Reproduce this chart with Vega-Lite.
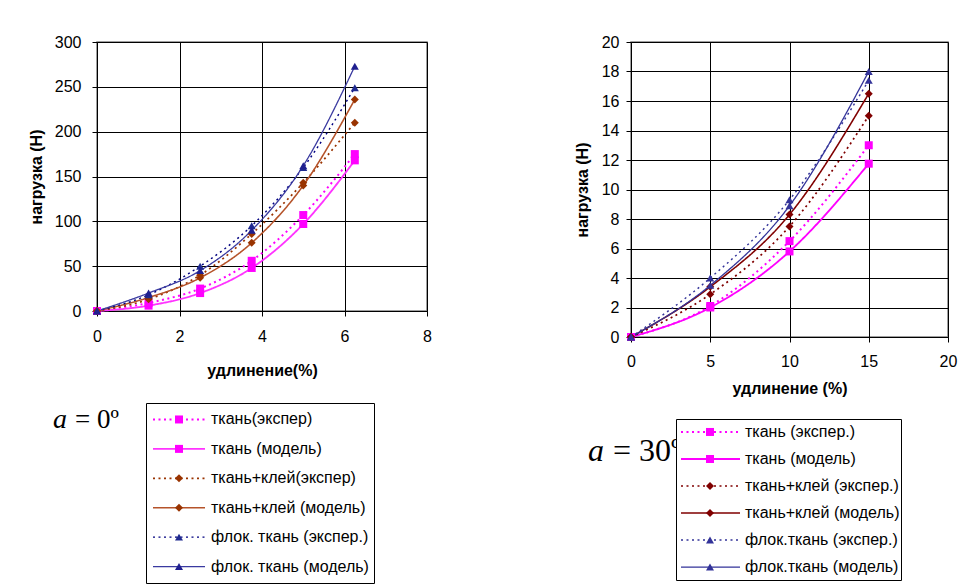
{
  "$schema": "https://vega.github.io/schema/vega-lite/v6.json",
  "background": "white",
  "padding": {"left": 27, "top": 33, "right": 0, "bottom": 0},
  "autosize": {"type": "pad"},
  "config": {
    "font": "Liberation Sans",
    "view": {"stroke": "#808080", "strokeWidth": 1.5},
    "axis": {
      "labelFont": "Liberation Sans", "labelFontSize": 16, "labelColor": "black",
      "titleFont": "Liberation Sans", "titleFontSize": 16, "titleFontWeight": "bold", "titleColor": "black",
      "domainColor": "black", "domainWidth": 1, "tickColor": "black", "tickSize": 5, "tickWidth": 1,
      "gridColor": "black", "gridOpacity": 1, "gridWidth": 1,
      "labelFlush": false, "labelOverlap": false
    }
  },
  "datasets": {
    "left": [
      {"series": "ткань(экспер)", "x": 0, "y": 0},
      {"series": "ткань(экспер)", "x": 1.25, "y": 9},
      {"series": "ткань(экспер)", "x": 2.5, "y": 25},
      {"series": "ткань(экспер)", "x": 3.75, "y": 56},
      {"series": "ткань(экспер)", "x": 5, "y": 107},
      {"series": "ткань(экспер)", "x": 6.25, "y": 175},
      {"series": " ткань (модель)", "x": 0, "y": 0},
      {"series": " ткань (модель)", "x": 1.25, "y": 6},
      {"series": " ткань (модель)", "x": 2.5, "y": 20},
      {"series": " ткань (модель)", "x": 3.75, "y": 48},
      {"series": " ткань (модель)", "x": 5, "y": 97},
      {"series": " ткань (модель)", "x": 6.25, "y": 168},
      {"series": "ткань+клей(экспер)", "x": 0, "y": 0},
      {"series": "ткань+клей(экспер)", "x": 1.25, "y": 13},
      {"series": "ткань+клей(экспер)", "x": 2.5, "y": 40},
      {"series": "ткань+клей(экспер)", "x": 3.75, "y": 86},
      {"series": "ткань+клей(экспер)", "x": 5, "y": 143},
      {"series": "ткань+клей(экспер)", "x": 6.25, "y": 210},
      {"series": "ткань+клей (модель)", "x": 0, "y": 0},
      {"series": "ткань+клей (модель)", "x": 1.25, "y": 15},
      {"series": "ткань+клей (модель)", "x": 2.5, "y": 37},
      {"series": "ткань+клей (модель)", "x": 3.75, "y": 76},
      {"series": "ткань+клей (модель)", "x": 5, "y": 140},
      {"series": "ткань+клей (модель)", "x": 6.25, "y": 236},
      {"series": "флок. ткань (экспер.)", "x": 0, "y": 0},
      {"series": "флок. ткань (экспер.)", "x": 1.25, "y": 18},
      {"series": "флок. ткань (экспер.)", "x": 2.5, "y": 50},
      {"series": "флок. ткань (экспер.)", "x": 3.75, "y": 95},
      {"series": "флок. ткань (экспер.)", "x": 5, "y": 160},
      {"series": "флок. ткань (экспер.)", "x": 6.25, "y": 249},
      {"series": "флок. ткань (модель)", "x": 0, "y": 0},
      {"series": "флок. ткань (модель)", "x": 1.25, "y": 20},
      {"series": "флок. ткань (модель)", "x": 2.5, "y": 45},
      {"series": "флок. ткань (модель)", "x": 3.75, "y": 90},
      {"series": "флок. ткань (модель)", "x": 5, "y": 162},
      {"series": "флок. ткань (модель)", "x": 6.25, "y": 273}
    ],
    "right": [
      {"series": "ткань (экспер.)", "x": 0, "y": 0},
      {"series": "ткань (экспер.)", "x": 5, "y": 2.1},
      {"series": "ткань (экспер.)", "x": 10, "y": 6.5},
      {"series": "ткань (экспер.)", "x": 15, "y": 13.0},
      {"series": "ткань (модель)", "x": 0, "y": 0},
      {"series": "ткань (модель)", "x": 5, "y": 2.0},
      {"series": "ткань (модель)", "x": 10, "y": 5.8},
      {"series": "ткань (модель)", "x": 15, "y": 11.75},
      {"series": "ткань+клей (экспер.)", "x": 0, "y": 0},
      {"series": "ткань+клей (экспер.)", "x": 5, "y": 2.9},
      {"series": "ткань+клей (экспер.)", "x": 10, "y": 7.5},
      {"series": "ткань+клей (экспер.)", "x": 15, "y": 15.0},
      {"series": "ткань+клей (модель)", "x": 0, "y": 0},
      {"series": "ткань+клей (модель)", "x": 5, "y": 3.4},
      {"series": "ткань+клей (модель)", "x": 10, "y": 8.3},
      {"series": "ткань+клей (модель)", "x": 15, "y": 16.5},
      {"series": "флок.ткань (экспер.)", "x": 0, "y": 0},
      {"series": "флок.ткань (экспер.)", "x": 5, "y": 4.0},
      {"series": "флок.ткань (экспер.)", "x": 10, "y": 9.3},
      {"series": "флок.ткань (экспер.)", "x": 15, "y": 17.4},
      {"series": "флок.ткань (модель)", "x": 0, "y": 0},
      {"series": "флок.ткань (модель)", "x": 5, "y": 3.5},
      {"series": "флок.ткань (модель)", "x": 10, "y": 8.9},
      {"series": "флок.ткань (модель)", "x": 15, "y": 18.0}
    ]
  },
  "resolve": {"scale": {"stroke": "independent", "fill": "independent", "shape": "independent", "size": "independent", "strokeDash": "independent", "strokeWidth": "independent"}},
  "spacing": 140,
  "hconcat": [
    {
      "spacing": 23,
      "vconcat": [
        {
          "width": 330, "height": 269,
          "data": {"name": "left"},
          "encoding": {
            "x": {"field": "x", "type": "quantitative", "scale": {"domain": [0, 8], "nice": false}, "axis": {"values": [0, 2, 4, 6, 8], "title": "удлинение(%)", "labelPadding": 12, "titlePadding": 18}},
            "y": {"field": "y", "type": "quantitative", "scale": {"domain": [0, 300], "nice": false}, "axis": {"values": [0, 50, 100, 150, 200, 250, 300], "title": "нагрузка (Н)", "labelPadding": 11, "titlePadding": 10}}
          },
          "layer": [
            {
              "mark": {"type": "line", "interpolate": "monotone"},
              "encoding": {
                "stroke": {"field": "series", "type": "nominal", "legend": null, "scale": {"domain": ["ткань(экспер)", " ткань (модель)", "ткань+клей(экспер)", "ткань+клей (модель)", "флок. ткань (экспер.)", "флок. ткань (модель)"], "range": ["#FF00FF", "#FF33FF", "#993300", "#B5532A", "#000080", "#3A3AA0"]}},
                "strokeDash": {"field": "series", "type": "nominal", "legend": null, "scale": {"domain": ["ткань(экспер)", " ткань (модель)", "ткань+клей(экспер)", "ткань+клей (модель)", "флок. ткань (экспер.)", "флок. ткань (модель)"], "range": [[2, 3.5], [1, 0], [2, 3.5], [1, 0], [2, 3.5], [1, 0]]}},
                "strokeWidth": {"field": "series", "type": "nominal", "legend": null, "scale": {"domain": ["ткань(экспер)", " ткань (модель)", "ткань+клей(экспер)", "ткань+клей (модель)", "флок. ткань (экспер.)", "флок. ткань (модель)"], "range": [2, 1.3, 2, 1.3, 2, 1.3]}}
              }
            },
            {
              "mark": {"type": "point", "filled": true, "opacity": 1, "strokeWidth": 0},
              "encoding": {
                "fill": {"field": "series", "type": "nominal", "legend": null, "scale": {"domain": ["ткань(экспер)", " ткань (модель)", "ткань+клей(экспер)", "ткань+клей (модель)", "флок. ткань (экспер.)", "флок. ткань (модель)"], "range": ["#FF00FF", "#FF00FF", "#993300", "#993300", "#1F2A8F", "#1F1F8F"]}},
                "shape": {"field": "series", "type": "nominal", "legend": null, "scale": {"domain": ["ткань(экспер)", " ткань (модель)", "ткань+клей(экспер)", "ткань+клей (модель)", "флок. ткань (экспер.)", "флок. ткань (модель)"], "range": ["square", "square", "diamond", "diamond", "triangle-up", "triangle-up"]}},
                "size": {"field": "series", "type": "nominal", "legend": null, "scale": {"domain": ["ткань(экспер)", " ткань (модель)", "ткань+клей(экспер)", "ткань+клей (модель)", "флок. ткань (экспер.)", "флок. ткань (модель)"], "range": [64, 64, 75, 75, 45, 95]}}
              }
            }
          ]
        },
        {
          "spacing": 0,
          "bounds": "flush",
          "hconcat": [
            {
              "width": 49, "height": 180,
              "view": {"stroke": null},
              "data": {"values": [{}]},
              "encoding": {
                "y": {"datum": 25, "type": "quantitative", "axis": null, "scale": {"domain": [180, 0], "nice": false, "zero": false}}
              },
              "layer": [
                {
                  "mark": {"type": "text", "align": "left", "baseline": "alphabetic", "font": "Liberation Serif", "fontStyle": "italic", "fontSize": 28, "color": "black", "text": "a"},
                  "encoding": {"x": {"datum": -44, "type": "quantitative", "axis": null, "scale": {"domain": [0, 49], "nice": false, "zero": false}}}
                },
                {
                  "mark": {"type": "text", "align": "left", "baseline": "alphabetic", "font": "Liberation Serif", "fontSize": 27, "color": "black", "text": "= 0º"},
                  "encoding": {"x": {"datum": -22, "type": "quantitative"}}
                }
              ]
            },
            {
              "width": 228, "height": 180,
              "view": {"stroke": "black", "strokeWidth": 1, "fill": "white"},
              "data": {"name": "left"},
              "transform": [{"filter": "datum.x == 0"}],
              "encoding": {
                "y": {"field": "series", "type": "nominal", "axis": null, "scale": {"type": "point", "padding": 0.56, "domain": ["ткань(экспер)", " ткань (модель)", "ткань+клей(экспер)", "ткань+клей (модель)", "флок. ткань (экспер.)", "флок. ткань (модель)"]}}
              },
              "layer": [
                {
                  "mark": {"type": "rule"},
                  "encoding": {
                    "x": {"datum": 7, "type": "quantitative", "axis": null, "scale": {"domain": [0, 228], "nice": false, "zero": false}},
                    "x2": {"datum": 59},
                    "stroke": {"field": "series", "type": "nominal", "legend": null, "scale": {"domain": ["ткань(экспер)", " ткань (модель)", "ткань+клей(экспер)", "ткань+клей (модель)", "флок. ткань (экспер.)", "флок. ткань (модель)"], "range": ["#FF00FF", "#FF33FF", "#993300", "#B5532A", "#000080", "#3A3AA0"]}},
                    "strokeDash": {"field": "series", "type": "nominal", "legend": null, "scale": {"domain": ["ткань(экспер)", " ткань (модель)", "ткань+клей(экспер)", "ткань+клей (модель)", "флок. ткань (экспер.)", "флок. ткань (модель)"], "range": [[2, 3.5], [1, 0], [2, 3.5], [1, 0], [2, 3.5], [1, 0]]}},
                    "strokeWidth": {"field": "series", "type": "nominal", "legend": null, "scale": {"domain": ["ткань(экспер)", " ткань (модель)", "ткань+клей(экспер)", "ткань+клей (модель)", "флок. ткань (экспер.)", "флок. ткань (модель)"], "range": [2, 1.3, 2, 1.3, 2, 1.3]}}
                  }
                },
                {
                  "mark": {"type": "point", "filled": true, "opacity": 1, "strokeWidth": 0},
                  "encoding": {
                    "x": {"datum": 33, "type": "quantitative"},
                    "fill": {"field": "series", "type": "nominal", "legend": null, "scale": {"domain": ["ткань(экспер)", " ткань (модель)", "ткань+клей(экспер)", "ткань+клей (модель)", "флок. ткань (экспер.)", "флок. ткань (модель)"], "range": ["#FF00FF", "#FF00FF", "#993300", "#993300", "#1F2A8F", "#1F1F8F"]}},
                    "shape": {"field": "series", "type": "nominal", "legend": null, "scale": {"domain": ["ткань(экспер)", " ткань (модель)", "ткань+клей(экспер)", "ткань+клей (модель)", "флок. ткань (экспер.)", "флок. ткань (модель)"], "range": ["square", "square", "diamond", "diamond", "triangle-up", "triangle-up"]}},
                    "size": {"field": "series", "type": "nominal", "legend": null, "scale": {"domain": ["ткань(экспер)", " ткань (модель)", "ткань+клей(экспер)", "ткань+клей (модель)", "флок. ткань (экспер.)", "флок. ткань (модель)"], "range": [64, 64, 75, 75, 45, 95]}}
                  }
                },
                {
                  "mark": {"type": "text", "align": "left", "baseline": "middle", "font": "Liberation Sans", "fontSize": 16, "color": "black"},
                  "encoding": {
                    "x": {"datum": 65, "type": "quantitative"},
                    "text": {"field": "series"}
                  }
                }
              ]
            }
          ]
        }
      ]
    },
    {
      "spacing": 21,
      "vconcat": [
        {
          "width": 317, "height": 295,
          "data": {"name": "right"},
          "encoding": {
            "x": {"field": "x", "type": "quantitative", "scale": {"domain": [0, 20], "nice": false}, "axis": {"values": [0, 5, 10, 15, 20], "title": "удлинение (%)", "labelPadding": 11, "titlePadding": 11}},
            "y": {"field": "y", "type": "quantitative", "scale": {"domain": [0, 20], "nice": false}, "axis": {"values": [0, 2, 4, 6, 8, 10, 12, 14, 16, 18, 20], "title": "нагрузка (Н)", "labelPadding": 7, "titlePadding": 11}}
          },
          "layer": [
            {
              "mark": {"type": "line", "interpolate": "monotone"},
              "encoding": {
                "stroke": {"field": "series", "type": "nominal", "legend": null, "scale": {"domain": ["ткань (экспер.)", "ткань (модель)", "ткань+клей (экспер.)", "ткань+клей (модель)", "флок.ткань (экспер.)", "флок.ткань (модель)"], "range": ["#FF00FF", "#FF00FF", "#800000", "#800000", "#333399", "#333399"]}},
                "strokeDash": {"field": "series", "type": "nominal", "legend": null, "scale": {"domain": ["ткань (экспер.)", "ткань (модель)", "ткань+клей (экспер.)", "ткань+клей (модель)", "флок.ткань (экспер.)", "флок.ткань (модель)"], "range": [[2, 3.5], [1, 0], [2, 3.5], [1, 0], [2, 3.5], [1, 0]]}},
                "strokeWidth": {"field": "series", "type": "nominal", "legend": null, "scale": {"domain": ["ткань (экспер.)", "ткань (модель)", "ткань+клей (экспер.)", "ткань+клей (модель)", "флок.ткань (экспер.)", "флок.ткань (модель)"], "range": [2, 1.3, 2, 1.3, 2, 1.3]}}
              }
            },
            {
              "mark": {"type": "point", "filled": true, "opacity": 1, "strokeWidth": 0},
              "encoding": {
                "fill": {"field": "series", "type": "nominal", "legend": null, "scale": {"domain": ["ткань (экспер.)", "ткань (модель)", "ткань+клей (экспер.)", "ткань+клей (модель)", "флок.ткань (экспер.)", "флок.ткань (модель)"], "range": ["#FF00FF", "#FF00FF", "#800000", "#800000", "#333399", "#333399"]}},
                "shape": {"field": "series", "type": "nominal", "legend": null, "scale": {"domain": ["ткань (экспер.)", "ткань (модель)", "ткань+клей (экспер.)", "ткань+клей (модель)", "флок.ткань (экспер.)", "флок.ткань (модель)"], "range": ["square", "square", "diamond", "diamond", "triangle-up", "triangle-up"]}},
                "size": {"field": "series", "type": "nominal", "legend": null, "scale": {"domain": ["ткань (экспер.)", "ткань (модель)", "ткань+клей (экспер.)", "ткань+клей (модель)", "флок.ткань (экспер.)", "флок.ткань (модель)"], "range": [64, 64, 64, 64, 80, 80]}}
              }
            }
          ]
        },
        {
          "spacing": 0,
          "bounds": "flush",
          "hconcat": [
            {
              "width": 45, "height": 161,
              "view": {"stroke": null},
              "data": {"values": [{}]},
              "encoding": {
                "y": {"datum": 42, "type": "quantitative", "axis": null, "scale": {"domain": [161, 0], "nice": false, "zero": false}}
              },
              "layer": [
                {
                  "mark": {"type": "text", "align": "left", "baseline": "alphabetic", "font": "Liberation Serif", "fontStyle": "italic", "fontSize": 32, "color": "black", "text": "a"},
                  "encoding": {"x": {"datum": -43, "type": "quantitative", "axis": null, "scale": {"domain": [0, 45], "nice": false, "zero": false}}}
                },
                {
                  "mark": {"type": "text", "align": "left", "baseline": "alphabetic", "font": "Liberation Serif", "fontSize": 32, "color": "black", "text": "= 30º"},
                  "encoding": {"x": {"datum": -18, "type": "quantitative"}}
                }
              ]
            },
            {
              "width": 225, "height": 161,
              "view": {"stroke": "black", "strokeWidth": 1, "fill": "white"},
              "data": {"name": "right"},
              "transform": [{"filter": "datum.x == 0"}],
              "encoding": {
                "y": {"field": "series", "type": "nominal", "axis": null, "scale": {"type": "point", "padding": 0.48, "domain": ["ткань (экспер.)", "ткань (модель)", "ткань+клей (экспер.)", "ткань+клей (модель)", "флок.ткань (экспер.)", "флок.ткань (модель)"]}}
              },
              "layer": [
                {
                  "mark": {"type": "rule"},
                  "encoding": {
                    "x": {"datum": 5, "type": "quantitative", "axis": null, "scale": {"domain": [0, 225], "nice": false, "zero": false}},
                    "x2": {"datum": 64},
                    "stroke": {"field": "series", "type": "nominal", "legend": null, "scale": {"domain": ["ткань (экспер.)", "ткань (модель)", "ткань+клей (экспер.)", "ткань+клей (модель)", "флок.ткань (экспер.)", "флок.ткань (модель)"], "range": ["#FF00FF", "#FF00FF", "#800000", "#800000", "#333399", "#333399"]}},
                    "strokeDash": {"field": "series", "type": "nominal", "legend": null, "scale": {"domain": ["ткань (экспер.)", "ткань (модель)", "ткань+клей (экспер.)", "ткань+клей (модель)", "флок.ткань (экспер.)", "флок.ткань (модель)"], "range": [[2, 3.5], [1, 0], [2, 3.5], [1, 0], [2, 3.5], [1, 0]]}},
                    "strokeWidth": {"field": "series", "type": "nominal", "legend": null, "scale": {"domain": ["ткань (экспер.)", "ткань (модель)", "ткань+клей (экспер.)", "ткань+клей (модель)", "флок.ткань (экспер.)", "флок.ткань (модель)"], "range": [2, 1.3, 2, 1.3, 2, 1.3]}}
                  }
                },
                {
                  "mark": {"type": "point", "filled": true, "opacity": 1, "strokeWidth": 0},
                  "encoding": {
                    "x": {"datum": 34, "type": "quantitative"},
                    "fill": {"field": "series", "type": "nominal", "legend": null, "scale": {"domain": ["ткань (экспер.)", "ткань (модель)", "ткань+клей (экспер.)", "ткань+клей (модель)", "флок.ткань (экспер.)", "флок.ткань (модель)"], "range": ["#FF00FF", "#FF00FF", "#800000", "#800000", "#333399", "#333399"]}},
                    "shape": {"field": "series", "type": "nominal", "legend": null, "scale": {"domain": ["ткань (экспер.)", "ткань (модель)", "ткань+клей (экспер.)", "ткань+клей (модель)", "флок.ткань (экспер.)", "флок.ткань (модель)"], "range": ["square", "square", "diamond", "diamond", "triangle-up", "triangle-up"]}},
                    "size": {"field": "series", "type": "nominal", "legend": null, "scale": {"domain": ["ткань (экспер.)", "ткань (модель)", "ткань+клей (экспер.)", "ткань+клей (модель)", "флок.ткань (экспер.)", "флок.ткань (модель)"], "range": [64, 64, 64, 64, 80, 80]}}
                  }
                },
                {
                  "mark": {"type": "text", "align": "left", "baseline": "middle", "font": "Liberation Sans", "fontSize": 16, "color": "black"},
                  "encoding": {
                    "x": {"datum": 69, "type": "quantitative"},
                    "text": {"field": "series"}
                  }
                }
              ]
            }
          ]
        }
      ]
    }
  ]
}
